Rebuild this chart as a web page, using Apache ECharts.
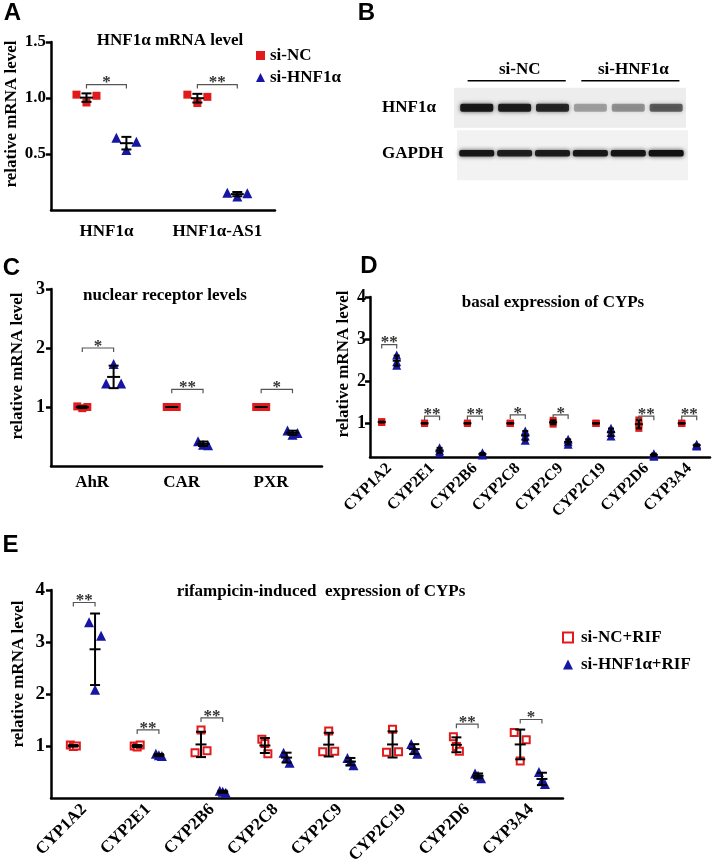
<!DOCTYPE html>
<html><head><meta charset="utf-8">
<script src="https://cdn.jsdelivr.net/npm/echarts@6/dist/echarts.min.js"></script>
<style>html,body{margin:0;padding:0;background:#fff}#c{width:714px;height:861px}</style>
</head><body><div id="c"></div>
<script>
// ---------------- DATA ----------------
const A_CATS = ['HNF1α', 'HNF1α-AS1'];
const A_NC = [[1.03, 0.96, 1.02], [1.03, 0.955, 1.01]];
const A_SI = [[0.645, 0.535, 0.61], [0.155, 0.12, 0.15]];
const A_SIG_Y = [1.12, 1.12];
const A_STARS = ['*', '**'];
const A_TICKS = [0.5, 1.0, 1.5];

const BLOT_ROWS = ['HNF1α', 'GAPDH'];
const BLOT_LANES = ['si-NC', 'si-NC', 'si-NC', 'si-HNF1α', 'si-HNF1α', 'si-HNF1α'];
const BLOT_HNF1A = [0.95, 0.92, 0.85, 0.32, 0.38, 0.6];
const BLOT_GAPDH = [0.95, 0.9, 0.92, 0.95, 0.97, 1.0];

const C_CATS = ['AhR', 'CAR', 'PXR'];
const C_NC = [[1.01, 0.98, 1.0], [1.0, 1.0, 1.0], [1.0, 1.0, 1.0]];
const C_SI = [[1.73, 1.40, 1.40], [0.42, 0.36, 0.35], [0.60, 0.53, 0.56]];
const C_SIG_Y = [2.0, 1.3, 1.3];
const C_STARS = ['*', '**', '*'];
const C_TICKS = [1, 2, 3];

const CYP_CATS = ['CYP1A2', 'CYP2E1', 'CYP2B6', 'CYP2C8', 'CYP2C9', 'CYP2C19', 'CYP2D6', 'CYP3A4'];
const D_NC = [[1.04, 1.02, 1.03], [1, 1, 1], [1, 1, 1], [1, 1, 1], [1.07, 0.98, 1.02], [1, 1, 1], [1.08, 0.88, 0.98], [1, 1, 1]];
const D_SI = [[2.62, 2.46, 2.38], [0.42, 0.35, 0.30], [0.30, 0.27, 0.25], [0.82, 0.70, 0.60], [0.62, 0.56, 0.50], [0.88, 0.78, 0.70], [0.28, 0.25, 0.22], [0.50, 0.48, 0.46]];
const D_SIG_Y = [2.87, 1.17, 1.17, 1.2, 1.2, null, 1.17, 1.17];
const D_STARS = ['**', '**', '**', '*', '*', '', '**', '**'];
const D_TICKS = [1, 2, 3, 4];

const E_NC = [[1.02, 0.99, 1.0], [1.0, 0.98, 1.02], [0.87, 1.31, 0.91], [1.13, 1.05, 0.85], [1.29, 0.89, 0.90], [1.32, 0.88, 0.89], [1.18, 0.99, 0.90], [1.26, 1.12, 0.71]];
const E_SI = [[3.38, 3.12, 2.08], [0.85, 0.82, 0.81], [0.14, 0.12, 0.10], [0.87, 0.78, 0.68], [0.77, 0.70, 0.63], [1.04, 0.93, 0.85], [0.47, 0.43, 0.38], [0.50, 0.33, 0.27]];
const E_SIG_Y = [3.76, 1.31, 1.54, null, null, null, 1.42, 1.51];
const E_STARS = ['**', '**', '**', '', '', '', '**', '*'];
const E_TICKS = [1, 2, 3, 4];

// ---------------- STYLE ----------------
const FONT = '"Liberation Serif", "Times New Roman", serif';
const SANS = '"Liberation Sans", Arial, sans-serif';
const RED = '#e31a1c';
const BLUE = '#1616a2';

function mean(a) { return a.reduce((s, v) => s + v, 0) / a.length; }
function sd(a) { const m = mean(a); return Math.sqrt(a.reduce((s, v) => s + (v - m) * (v - m), 0) / (a.length - 1)); }

function jitter(vals, ppu, thr, step2, step3) {
  const idx = vals.map((v, i) => i).sort((a, b) => vals[b] - vals[a]);
  const clusters = []; let cur = [idx[0]];
  for (let k = 1; k < idx.length; k++) {
    if ((vals[idx[k - 1]] - vals[idx[k]]) * ppu < thr) cur.push(idx[k]);
    else { clusters.push(cur); cur = [idx[k]]; }
  }
  clusters.push(cur);
  const off = vals.map(() => 0);
  clusters.forEach(c => {
    c.sort((a, b) => a - b);
    const n = c.length, st = n === 2 ? step2 : step3;
    c.forEach((ix, k) => { off[ix] = (k - (n - 1) / 2) * st; });
  });
  return off;
}

function panelSeries(cfg) {
  const ncData = [], siData = [], eb = [], br = [], brStars = [];
  cfg.cats.forEach((c, i) => {
    [[cfg.nc, cfg.redOff, ncData], [cfg.si, cfg.blueOff, siData]].forEach(([arr, off, out]) => {
      const vals = arr[i];
      const j = jitter(vals, cfg.ppu, cfg.thr, cfg.step2, cfg.step3);
      vals.forEach((v, k) => out.push({ value: [i + off, v], symbolOffset: [j[k], 0] }));
      eb.push([i + off, mean(vals), sd(vals)]);
    });
    if (cfg.stars[i]) { br.push([i + cfg.redOff, i + cfg.blueOff, cfg.sigY[i]]); brStars.push(cfg.stars[i]); }
  });
  const ax = { xAxisIndex: cfg.ax, yAxisIndex: cfg.ax };
  const ncStyle = cfg.hollow ? { color: '#fff', borderColor: RED, borderWidth: 2, opacity: 1 } : { color: RED, opacity: 1 };
  return [
    Object.assign({ type: 'scatter', name: cfg.ncName, data: ncData, symbol: 'rect', symbolSize: cfg.ncSize, itemStyle: ncStyle, z: 2, silent: true, emphasis: { disabled: true } }, ax),
    Object.assign({ type: 'scatter', name: cfg.siName, data: siData, symbol: 'triangle', symbolSize: cfg.siSize, itemStyle: { color: BLUE, opacity: 1 }, z: 2, silent: true, emphasis: { disabled: true } }, ax),
    Object.assign({
      type: 'custom', data: eb, z: 4, silent: true, clip: false, encode: { x: 0, y: 1 },
      renderItem: (p, api) => {
        const x = api.value(0), m = api.value(1), s = api.value(2);
        const c = api.coord([x, m]), t = api.coord([x, m + s]), b = api.coord([x, m - s]);
        const hw = cfg.meanW / 2, cw = cfg.capW / 2;
        const st = { stroke: '#000', lineWidth: 2 };
        return { type: 'group', children: [
          { type: 'line', shape: { x1: c[0], y1: t[1], x2: c[0], y2: b[1] }, style: st },
          { type: 'line', shape: { x1: c[0] - hw, y1: c[1], x2: c[0] + hw, y2: c[1] }, style: st },
          { type: 'line', shape: { x1: c[0] - cw, y1: t[1], x2: c[0] + cw, y2: t[1] }, style: st },
          { type: 'line', shape: { x1: c[0] - cw, y1: b[1], x2: c[0] + cw, y2: b[1] }, style: st }
        ] };
      }
    }, ax),
    Object.assign({
      type: 'custom', data: br, z: 4, silent: true, clip: false, encode: { x: [0, 1], y: 2 },
      renderItem: (p, api) => {
        const p1 = api.coord([api.value(0), api.value(2)]), p2 = api.coord([api.value(1), api.value(2)]);
        return { type: 'group', children: [
          { type: 'polyline', shape: { points: [[p1[0], p1[1] + 4], [p1[0], p1[1]], [p2[0], p2[1]], [p2[0], p2[1] + 4]] }, style: { stroke: '#555', lineWidth: 1.2, fill: null } },
          { type: 'text', x: (p1[0] + p2[0]) / 2, y: p1[1] - 1.5, style: { text: brStars[p.dataIndex], font: 'bold 17px ' + FONT, fill: '#333', textAlign: 'center', textVerticalAlign: 'middle', align: 'center', verticalAlign: 'middle' } }
        ] };
      }
    }, ax)
  ];
}

function xAxisFor(gi, cats, min, max, fs, margin, rotate) {
  return { type: 'value', gridIndex: gi, min, max, splitLine: { show: false },
    axisLine: { show: true, onZero: false, lineStyle: { color: '#000', width: 2.5 } },
    axisTick: { show: false },
    axisLabel: { customValues: cats.map((_, i) => i), formatter: v => cats[Math.round(v)] || '', color: '#000', fontFamily: FONT, fontWeight: 'bold', fontSize: fs, margin, rotate: rotate || 0 } };
}
function yAxisFor(gi, min, max, ticks, fs, margin, dec) {
  return { type: 'value', gridIndex: gi, min, max, splitLine: { show: false },
    axisLine: { show: true, onZero: false, lineStyle: { color: '#000', width: 2.5 } },
    axisTick: { show: true, customValues: ticks, length: 5, lineStyle: { color: '#000', width: 2.5 } },
    axisLabel: { customValues: ticks, formatter: v => dec ? v.toFixed(dec) : String(v), color: '#000', fontFamily: FONT, fontWeight: 'bold', fontSize: fs, margin } };
}

function gText(text, x, y, size, rot, sans) {
  return { type: 'text', x, y, rotation: rot || 0, silent: true,
    style: { text, font: 'bold ' + size + 'px ' + (sans ? SANS : FONT), fill: '#000', textAlign: 'center', textVerticalAlign: 'middle', align: 'center', verticalAlign: 'middle' } };
}

// blot groups
const groups = [];
BLOT_LANES.forEach((g, i) => { const last = groups[groups.length - 1]; if (last && last.name === g) last.end = i; else groups.push({ name: g, start: i, end: i }); });

const chart = echarts.init(document.getElementById('c'), null, { renderer: 'canvas', width: 714, height: 861 });

const series = [].concat(
  panelSeries({ ax: 0, cats: A_CATS, nc: A_NC, si: A_SI, sigY: A_SIG_Y, stars: A_STARS, redOff: -0.18, blueOff: 0.18, ppu: 112, thr: 12, step2: 12, step3: 10, ncSize: 8, siSize: 10, meanW: 13, capW: 10, ncName: 'si-NC', siName: 'si-HNF1α' }),
  panelSeries({ ax: 1, cats: C_CATS, nc: C_NC, si: C_SI, sigY: C_SIG_Y, stars: C_STARS, redOff: -0.11, blueOff: 0.24, ppu: 59, thr: 15, step2: 15, step3: 5, ncSize: 8, siSize: 10, meanW: 13, capW: 10, ncName: 'si-NC', siName: 'si-HNF1α' }),
  panelSeries({ ax: 2, cats: CYP_CATS, nc: D_NC, si: D_SI, sigY: D_SIG_Y, stars: D_STARS, redOff: -0.175, blueOff: 0.175, ppu: 42, thr: 0, step2: 0, step3: 0, ncSize: 7, siSize: 9, meanW: 8, capW: 6, ncName: 'si-NC', siName: 'si-HNF1α' }),
  panelSeries({ ax: 3, cats: CYP_CATS, nc: E_NC, si: E_SI, sigY: E_SIG_Y, stars: E_STARS, redOff: -0.17, blueOff: 0.17, ppu: 52, thr: 15, step2: 12, step3: 3, ncSize: 7, siSize: 10, meanW: 11, capW: 10, ncName: 'si-NC+RIF', siName: 'si-HNF1α+RIF', hollow: true }),
  [
    { type: 'custom', xAxisIndex: 4, yAxisIndex: 4, silent: true, clip: false, z: 1,
      data: BLOT_ROWS.map((r, i) => [0, i]), encode: { x: 0, y: 1 },
      renderItem: (p, api) => {
        const row = api.value(1); const c = api.coord([0, row]); const cs = p.coordSys;
        const h = row === 0 ? 40 : 50, dy = row === 0 ? 0 : 2;
        return { type: 'rect', shape: { x: cs.x + (row === 0 ? 0 : 3), y: c[1] - h / 2 + dy, width: cs.width - (row === 0 ? 1 : 2), height: h }, style: { fill: row === 0 ? '#ededed' : '#f2f2f2' } };
      } },
    { type: 'custom', xAxisIndex: 4, yAxisIndex: 4, silent: true, clip: false, z: 2,
      data: BLOT_LANES.map((_, i) => [i, 0, BLOT_HNF1A[i]]).concat(BLOT_LANES.map((_, i) => [i, 1, BLOT_GAPDH[i]])), encode: { x: 0, y: 1 },
      renderItem: (p, api) => {
        const row = api.value(1), it = api.value(2); const c = api.coord([api.value(0), row]);
        const w = row === 0 ? 33 : 35, h = row === 0 ? 8 : 6.5;
        return { type: 'rect', shape: { x: c[0] - w / 2, y: c[1] - h / 2, width: w, height: h, r: 2 },
          style: { fill: 'rgba(18,18,18,' + it + ')', shadowBlur: 4, shadowColor: 'rgba(18,18,18,' + (it * 0.8) + ')' } };
      } },
    { type: 'custom', xAxisIndex: 4, yAxisIndex: 4, silent: true, clip: false, z: 2,
      data: groups.map(g => [g.start, g.end]), encode: { x: [0, 1] },
      renderItem: (p, api) => {
        const a = api.coord([api.value(0) - 0.24, 0]), b = api.coord([api.value(1) + 0.35, 0]);
        const y = a[1] - 27;
        return { type: 'group', children: [
          { type: 'line', shape: { x1: a[0], y1: y, x2: b[0], y2: y }, style: { stroke: '#000', lineWidth: 1.5 } },
          { type: 'text', x: (a[0] + b[0]) / 2 + 3, y: y - 11, style: { text: groups[p.dataIndex].name, font: 'bold 17px ' + FONT, fill: '#000', textAlign: 'center', textVerticalAlign: 'middle', align: 'center', verticalAlign: 'middle' } }
        ] };
      } }
  ]
);

const legendText = { fontFamily: FONT, fontWeight: 'bold', fontSize: 17, color: '#000' };

const option = {
  backgroundColor: '#fff',
  animation: false,
  grid: [
    { left: 51, top: 42, width: 224, height: 168, outerBoundsMode: 'none' },
    { left: 51, top: 289, width: 271, height: 177, outerBoundsMode: 'none' },
    { left: 370, top: 297, width: 340, height: 160, outerBoundsMode: 'none' },
    { left: 51, top: 590, width: 512, height: 208, outerBoundsMode: 'none' },
    { left: 454, top: 85, width: 233, height: 91, outerBoundsMode: 'none' }
  ],
  xAxis: [
    xAxisFor(0, A_CATS, -0.5, 1.52, 17, 13),
    xAxisFor(1, C_CATS, -0.46, 2.57, 17, 8),
    xAxisFor(2, CYP_CATS, -0.448, 7.485, 16, 9, 45),
    xAxisFor(3, CYP_CATS, -0.52, 7.5, 17, 9, 45),
    { type: 'value', gridIndex: 4, min: -0.6, max: 5.55, show: false }
  ],
  yAxis: [
    yAxisFor(0, 0, 1.5, A_TICKS, 17, 5, 1),
    yAxisFor(1, 0, 3, C_TICKS, 18, 6),
    yAxisFor(2, 0.2, 4, D_TICKS, 18, 4),
    yAxisFor(3, 0, 4, E_TICKS, 19, 6),
    { type: 'category', gridIndex: 4, data: BLOT_ROWS, inverse: true, axisLine: { show: false }, axisTick: { show: false }, splitLine: { show: false },
      axisLabel: { align: 'left', margin: 72, color: '#000', fontFamily: FONT, fontWeight: 'bold', fontSize: 17 } }
  ],
  legend: [
    { data: ['si-NC', 'si-HNF1α'], left: 256, top: 47, orient: 'vertical', itemWidth: 9, itemHeight: 9, itemGap: 5, padding: 0, selectedMode: false, textStyle: legendText },
    { data: ['si-NC+RIF', 'si-HNF1α+RIF'], left: 562, top: 629, orient: 'vertical', itemWidth: 10, itemHeight: 10, itemGap: 10, padding: 0, selectedMode: false, textStyle: Object.assign({ padding: [0, 0, 0, 3] }, legendText) }
  ],
  graphic: [
    gText('A', 12.5, 13.5, 24, 0, true),
    gText('B', 366.5, 13.5, 24, 0, true),
    gText('C', 11.5, 268.5, 24, 0, true),
    gText('D', 369, 266.5, 24, 0, true),
    gText('E', 10.5, 545, 24, 0, true),
    gText('HNF1α mRNA level', 170, 41, 17),
    gText('nuclear receptor levels', 165, 296, 17),
    gText('basal expression of CYPs', 553, 303, 17),
    gText('rifampicin-induced  expression of CYPs', 321, 592, 17),
    gText('relative mRNA level', 12, 114, 17, Math.PI / 2),
    gText('relative mRNA level', 18, 366, 17, Math.PI / 2),
    gText('relative mRNA level', 343.5, 364, 17, Math.PI / 2),
    gText('relative mRNA level', 18.5, 674, 17, Math.PI / 2)
  ],
  series
};
chart.setOption(option);
</script>
</body></html>
